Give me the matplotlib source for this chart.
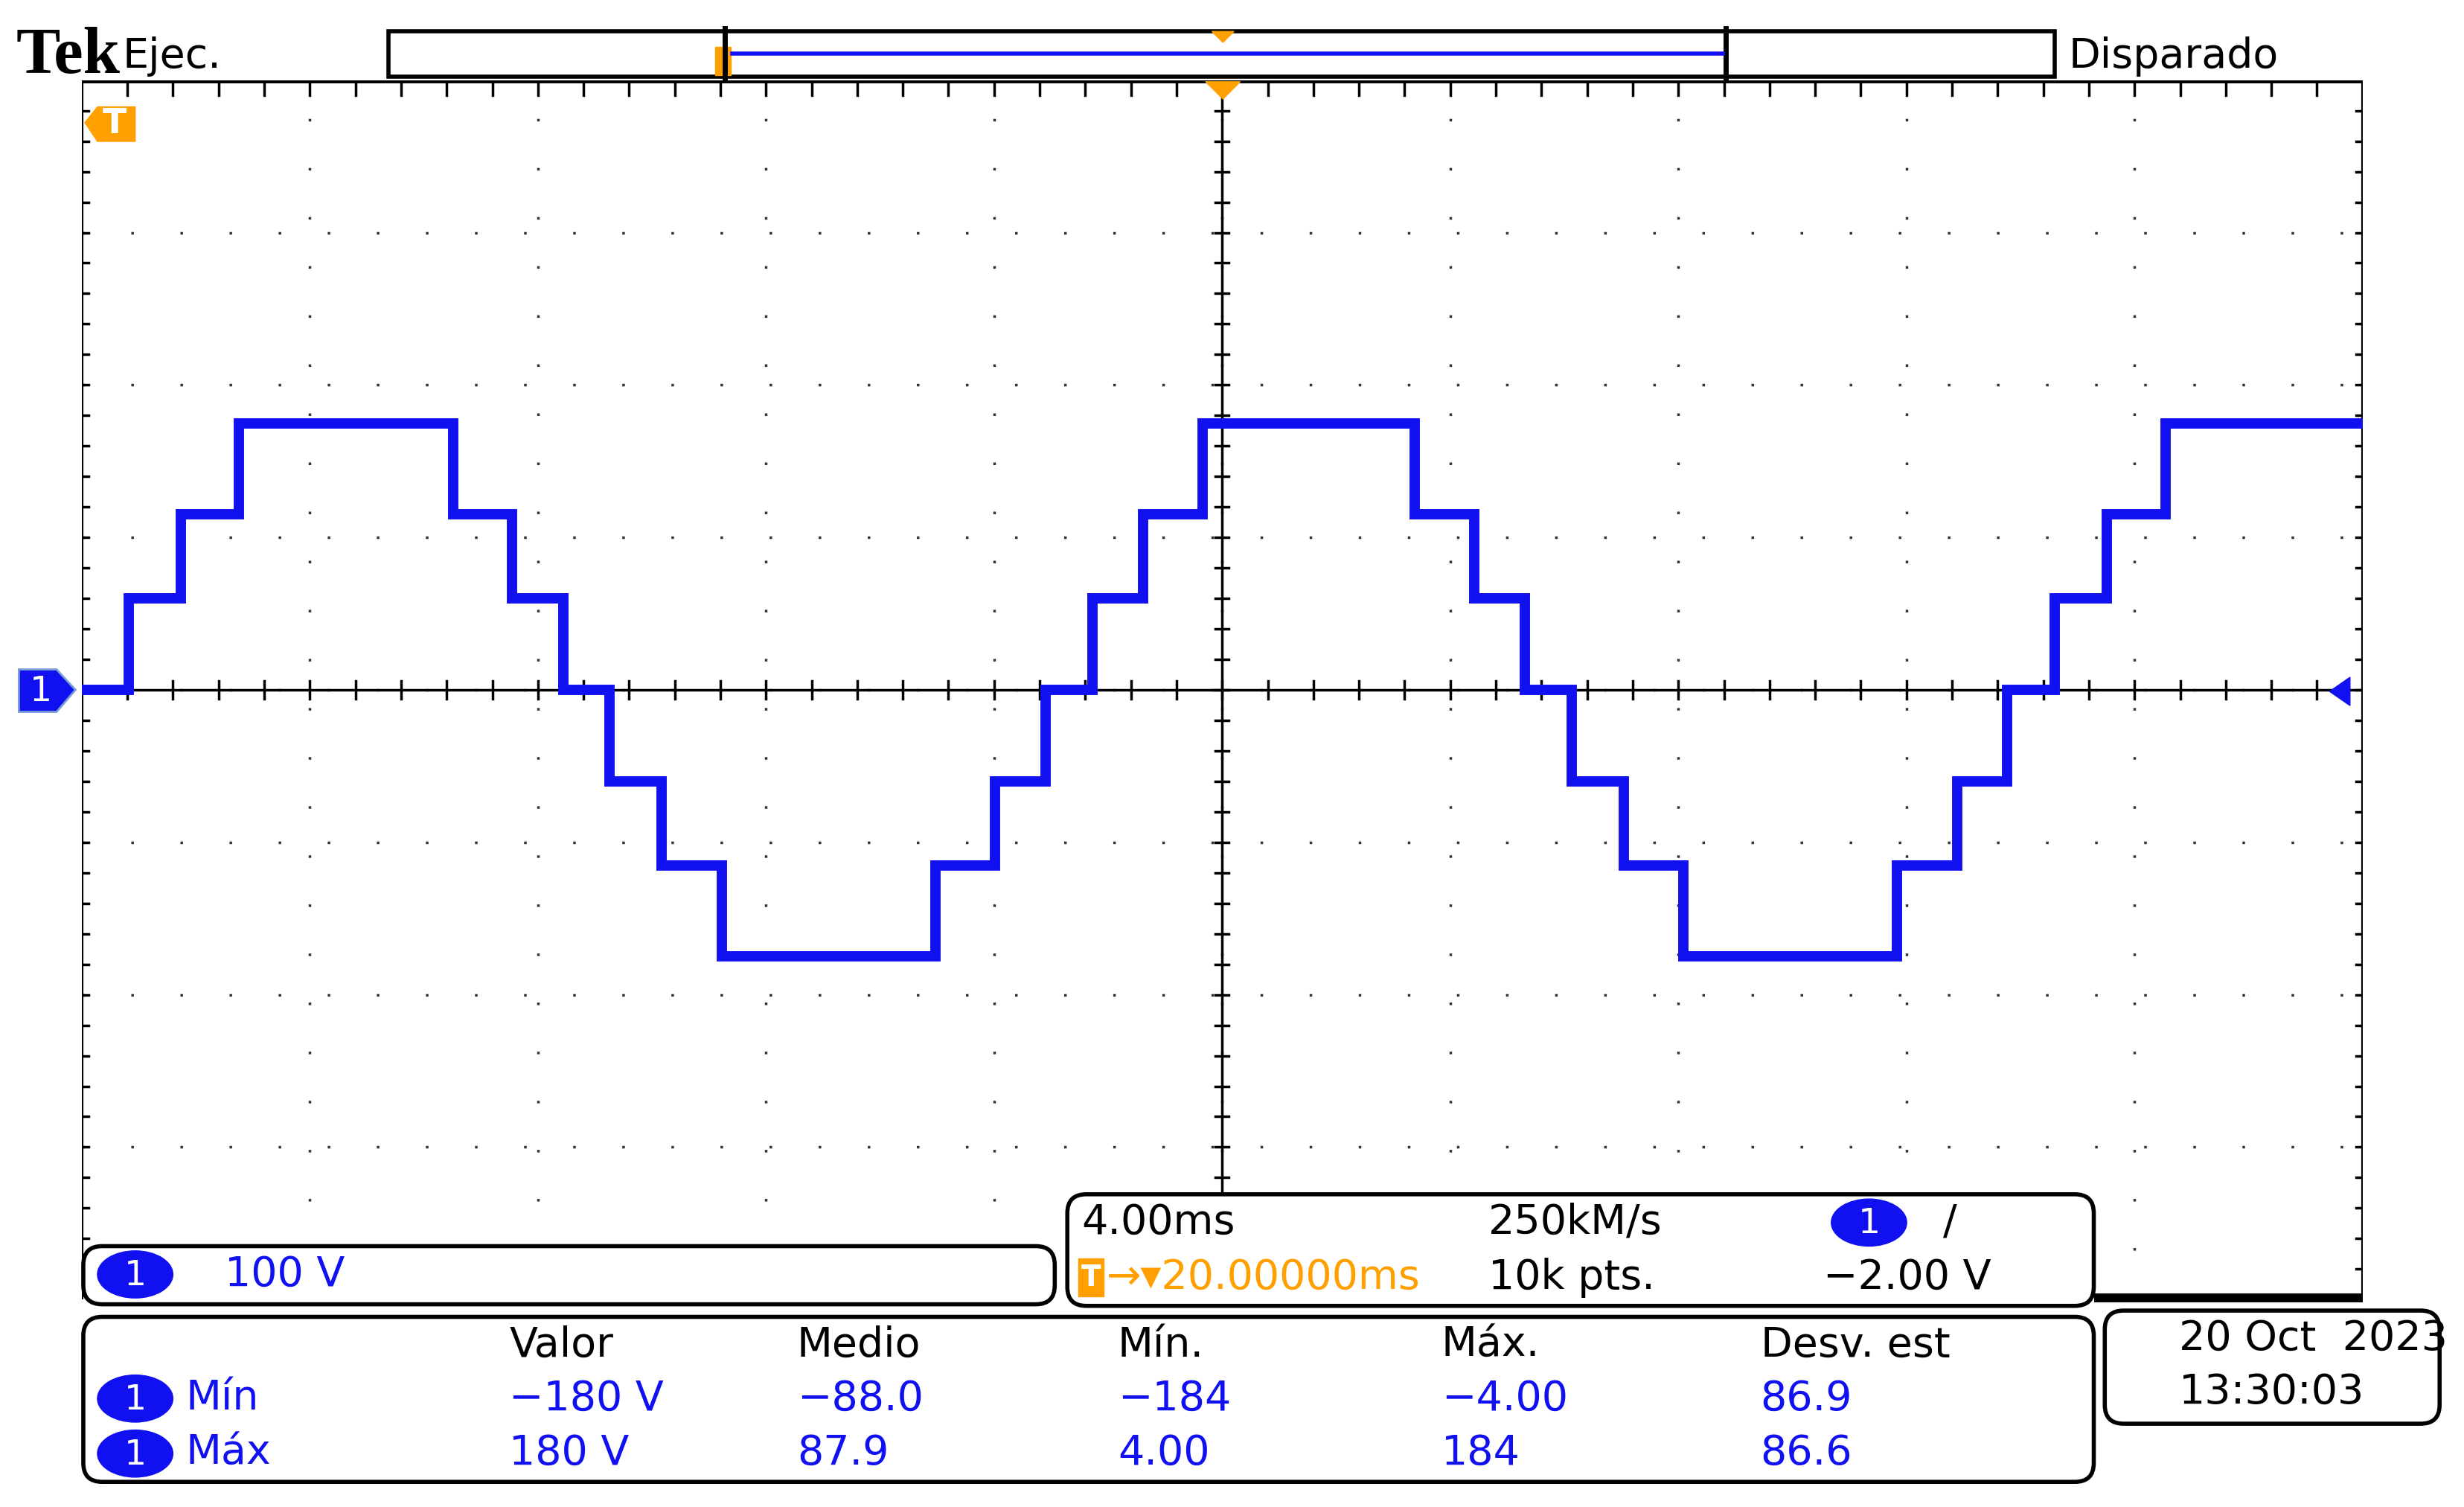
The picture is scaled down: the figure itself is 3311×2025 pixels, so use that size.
import matplotlib
matplotlib.use("Agg")
import matplotlib.pyplot as plt
from matplotlib.patches import FancyBboxPatch, Ellipse, Rectangle, Polygon
import numpy as np

plt.rcParams['font.family'] = ['DejaVu Sans']

# step waveform (time ms, level V)
edges_ms = [0, 0.83, 1.74, 2.76, 6.51, 7.55, 8.44, 9.26, 10.17, 11.22, 14.97, 16.02,
            16.90, 17.73, 18.61, 19.66, 23.38, 24.42, 25.31, 26.13, 27.04, 28.09,
            31.84, 32.89, 33.77, 34.60, 35.51, 36.55, 40.0]
levels_v = [0, 60, 115, 175, 115, 60, 0, -60, -115, -175, -115, -60, 0, 60, 115, 175,
            115, 60, 0, -60, -115, -175, -115, -60, 0, 60, 115, 175]

meas_headers = ["Valor", "Medio", "Mín.", "Máx.", "Desv. est"]
meas_min = ["−180 V", "−88.0", "−184", "−4.00", "86.9"]
meas_max = ["180 V", "87.9", "4.00", "184", "86.6"]

W, H = 1568, 959
fig = plt.figure(figsize=(33.12, 20.25), dpi=100)
BLUE = "#1010f0"
ORANGE = "#ffa000"
FS = 40

# data axes
x0, x1, yt, yb = 52, 1503, 51, 827
ax = fig.add_axes([x0 / W, 1 - yb / H, (x1 - x0) / W, (yb - yt) / H])
ax.set_xlim(0, 40)
ax.set_ylim(-400, 400)
ax.axis('off')
for i in range(1, 10):
    ax.plot([i * 4, i * 4], [-400, 400], color='#333333', lw=2.5, ls=(0, (1, 18)), zorder=1)
for j in range(-3, 4):
    ax.plot([0, 40], [j * 100, j * 100], color='#333333', lw=2.5, ls=(0, (1, 18)), zorder=1)
ax.plot([20, 20], [-400, 400], color='black', lw=2.5, zorder=2)
ax.plot([0, 40], [0, 0], color='black', lw=2.5, zorder=2)
for k in range(1, 50):
    xv = k * 0.8
    ax.plot([xv, xv], [-6, 6], color='black', lw=2.5, zorder=2)
for k in range(-19, 20):
    yv = k * 20
    ax.plot([19.88, 20.12], [yv, yv], color='black', lw=2.5, zorder=2)
for k in range(1, 50):
    xv = k * 0.8
    ax.plot([xv, xv], [400, 390], color='black', lw=2.5)
for k in range(-19, 20):
    ax.plot([0, 0.12], [k * 20, k * 20], color='black', lw=2.5)
    ax.plot([39.88, 40], [k * 20, k * 20], color='black', lw=2.5)
ax.plot([0, 0, 40, 40], [-400, 400, 400, -400], color='black', lw=3, zorder=3)
ax.plot([0, 40], [400, 400], color='black', lw=5, zorder=3)

xs = np.repeat(edges_ms, 2)[1:-1]
ys = np.repeat(levels_v, 2)
ax.plot(xs, ys, color=BLUE, lw=10, solid_joinstyle='miter', zorder=5)

ov = fig.add_axes([0, 0, 1, 1])
ov.set_xlim(0, W)
ov.set_ylim(H, 0)
ov.axis('off')

ov.text(10, 36, "Tek", fontsize=64, fontweight='bold', family=['Liberation Serif', 'DejaVu Serif'],
        va='center', ha='left')
ov.text(78, 36, "Ejec.", fontsize=FS, va='center', ha='left')
ov.text(1316, 36, "Disparado", fontsize=FS, va='center', ha='left')
ov.add_patch(Rectangle((247, 20), 1060, 29, fill=False, ec='black', lw=4))
ov.plot([461, 461], [18, 50], color='black', lw=5)
ov.plot([1098, 1098], [18, 50], color='black', lw=5)
ov.plot([466, 1096], [34, 34], color=BLUE, lw=4)
ov.add_patch(Rectangle((455, 30), 10, 18, fc=ORANGE, ec=ORANGE))
ov.add_patch(Polygon([[771, 20], [785, 20], [778, 27]], fc=ORANGE, ec=ORANGE))
ov.add_patch(Polygon([[767, 52], [789, 52], [778, 63]], fc=ORANGE, ec=ORANGE))
ov.add_patch(Polygon([[54, 78], [62, 68], [86, 68], [86, 90], [62, 90]], fc=ORANGE, ec=ORANGE))
ov.text(73, 79, "T", color='white', fontsize=34, fontweight='bold', ha='center', va='center')
ov.add_patch(Polygon([[12, 426], [36, 426], [48, 439], [36, 453], [12, 453]], fc=BLUE, ec='#7aa0d8', lw=2))
ov.text(26, 440, "1", color='white', fontsize=34, ha='center', va='center')
ov.add_patch(Polygon([[1482, 440], [1495, 431], [1495, 449]], fc=BLUE, ec=BLUE))

def rbox(x, y, w, h):
    ov.add_patch(FancyBboxPatch((x, y), w, h, boxstyle="round,pad=0,rounding_size=12",
                                fc='white', ec='black', lw=4, zorder=6))

def badge(cx, cy):
    ov.add_patch(Ellipse((cx, cy), 48, 30, fc=BLUE, ec=BLUE, zorder=7))
    ov.text(cx, cy + 1, "1", color='white', fontsize=34, ha='center', va='center', zorder=8)

rbox(53, 793, 618, 37)
badge(86, 811)
ov.text(143, 811, "100 V", color=BLUE, fontsize=FS, va='center', zorder=8)
rbox(679, 760, 653, 71)
ov.text(688, 778, "4.00ms", fontsize=FS, va='center', zorder=8)
ov.text(947, 778, "250kM/s", fontsize=FS, va='center', zorder=8)
badge(1189, 778)
ov.text(1236, 778, "/", fontsize=FS, va='center', zorder=8)
ov.add_patch(Rectangle((686, 801), 16, 24, fc=ORANGE, ec=ORANGE, zorder=7))
ov.text(694, 813, "T", color='white', fontsize=28, fontweight='bold', ha='center', va='center', zorder=8)
ov.text(704, 813, "→▾20.00000ms", color=ORANGE, fontsize=FS, va='center', zorder=8)
ov.text(947, 813, "10k pts.", fontsize=FS, va='center', zorder=8)
ov.text(1160, 813, "−2.00 V", fontsize=FS, va='center', zorder=8)
ov.add_patch(Rectangle((1332, 823), 171, 6, fc='black', zorder=5))
rbox(53, 838, 1279, 105)
hx = [324, 507, 711, 917, 1120]
for x, h, a, b in zip(hx, meas_headers, meas_min, meas_max):
    ov.text(x, 856, h, fontsize=FS, va='center', zorder=8)
    ov.text(x, 890, a, color=BLUE, fontsize=FS, va='center', zorder=8)
    ov.text(x, 925, b, color=BLUE, fontsize=FS, va='center', zorder=8)
badge(86, 890)
ov.text(118, 890, "Mín", color=BLUE, fontsize=FS, va='center', zorder=8)
badge(86, 925)
ov.text(118, 925, "Máx", color=BLUE, fontsize=FS, va='center', zorder=8)
rbox(1339, 834, 213, 72)
ov.text(1386, 852, "20 Oct  2023", fontsize=FS, va='center', zorder=8)
ov.text(1386, 886, "13:30:03", fontsize=FS, va='center', zorder=8)

fig.savefig("out.png", dpi=100)
